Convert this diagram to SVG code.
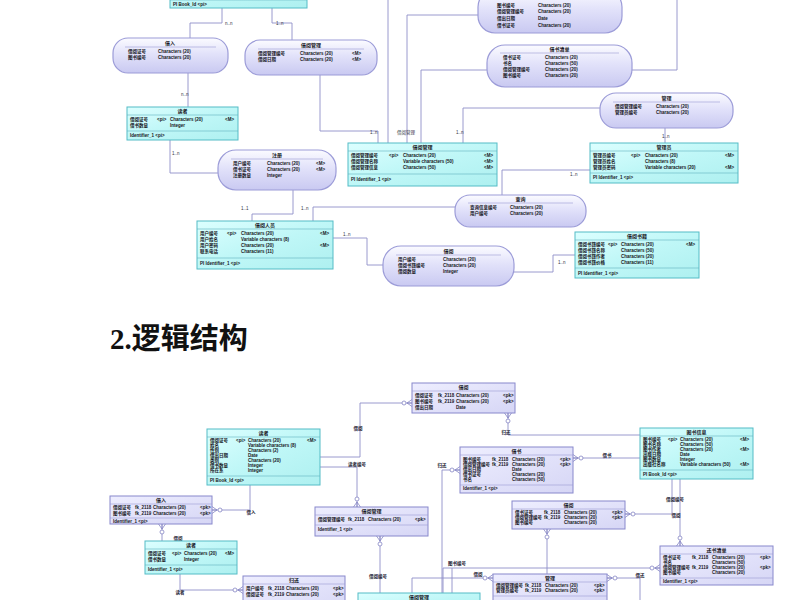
<svg xmlns="http://www.w3.org/2000/svg" width="800" height="600" viewBox="0 0 800 600">
<defs>
<linearGradient id="gc" x1="0" y1="0" x2="1" y2="1"><stop offset="0" stop-color="#dcffff"/><stop offset="0.5" stop-color="#bff7f7"/><stop offset="1" stop-color="#aef0f0"/></linearGradient>
<linearGradient id="gl" x1="0" y1="0" x2="0" y2="1"><stop offset="0" stop-color="#fbfbff"/><stop offset="0.45" stop-color="#e2e2fa"/><stop offset="1" stop-color="#c9c9f1"/></linearGradient>
<linearGradient id="gt" x1="0" y1="0" x2="1" y2="1"><stop offset="0" stop-color="#eeeeff"/><stop offset="1" stop-color="#d6d6f5"/></linearGradient>
<marker id="cf" markerUnits="userSpaceOnUse" markerWidth="14" markerHeight="10" refX="12" refY="5" orient="auto">
<path d="M12,1.5 L7,5 L12,8.5 M7,5 L12,5" fill="none" stroke="#8585c4" stroke-width="0.8"/>
<circle cx="4" cy="5" r="2" fill="#ffffff" stroke="#8585c4" stroke-width="0.8"/>
</marker>
<style>
.ent{fill:url(#gc);stroke:#55bcc6;stroke-width:1}
.rel{fill:url(#gl);stroke:#9c9cd8;stroke-width:1.2}
.tb{fill:url(#gt);stroke:#8888cc;stroke-width:1}
.sep{stroke:#62b4c0;stroke-width:0.6}
.sepl{stroke:#9a9ad4;stroke-width:0.6}
.ln{fill:none;stroke:#8e8ec8;stroke-width:0.9}
.lc{fill:none;stroke:#8e8ec8;stroke-width:0.9;marker-end:url(#cf)}
.t{font-family:"Liberation Sans","Noto Sans CJK SC",sans-serif;font-size:4.5px;font-weight:bold;fill:#151522}
.h{font-family:"Liberation Sans","Noto Sans CJK SC",sans-serif;font-size:5px;font-weight:bold;text-anchor:middle;fill:#151522}
.lb{font-family:"Liberation Sans","Noto Sans CJK SC",sans-serif;font-size:4.5px;fill:#333344}
.lbb{font-family:"Liberation Sans","Noto Sans CJK SC",sans-serif;font-size:4.5px;font-weight:bold;fill:#222233;text-anchor:middle}
.title{font-family:"Liberation Serif","Noto Sans CJK SC",serif;font-size:29px;font-weight:bold;fill:#111111}
</style>
</defs>
<rect x="0" y="0" width="800" height="600" fill="#ffffff"/>

<!-- ============ connectors ============ -->
<g id="connectors">
<!-- top diagram -->
<polyline class="ln" points="222,8 222,23 190,23 190,38"/>
<polyline class="ln" points="272,8 272,23 292,23 292,40"/>
<polyline class="ln" points="188,73 188,107"/>
<polyline class="ln" points="320,75 320,131 378,131 378,143"/>
<polyline class="ln" points="388,0 388,143"/>
<polyline class="ln" points="478,15 407,15 407,143"/>
<polyline class="ln" points="487,70 421,70 421,143"/>
<polyline class="ln" points="600,108 463,108 463,143"/>
<polyline class="ln" points="677,0 677,70 632,70"/>
<polyline class="ln" points="665,128 665,143"/>
<polyline class="ln" points="590,170 502,170 502,195"/>
<polyline class="ln" points="455,207 313,207 313,221"/>
<polyline class="ln" points="293,190 293,214 252,214 252,221"/>
<polyline class="ln" points="170,140 170,173 218,173"/>
<polyline class="ln" points="333,238 367,238 367,265 383,265"/>
<polyline class="ln" points="514,272 553,272 553,255 575,255"/>
<text class="lb" x="225" y="25">n..n</text>
<text class="lb" x="276" y="25">1..n</text>
<text class="lb" x="181" y="96">n..n</text>
<text class="lb" x="370" y="134">1..n</text>
<text class="lb" x="397" y="134">借阅管理</text>
<text class="lb" x="456" y="134">1..n</text>
<text class="lb" x="662" y="138">1..n</text>
<text class="lb" x="570" y="176">1..n</text>
<text class="lb" x="301" y="210">1..n</text>
<text class="lb" x="241" y="210">1..1</text>
<text class="lb" x="172" y="155">1..n</text>
<text class="lb" x="343" y="236">1..n</text>
<text class="lb" x="558" y="264">1..n</text>
<!-- bottom diagram -->
<polyline class="lc" points="320,457 360,457 360,403 412,403"/>
<polyline class="lc" points="320,467 357,467 357,507"/>
<polyline class="lc" points="250,485 250,510 212,510"/>
<polyline class="lc" points="162,541 162,524"/>
<polyline class="lc" points="180,574 180,590 243,590"/>
<polyline class="lc" points="380,593 380,536"/>
<polyline class="lc" points="640,435 508,435 508,413"/>
<polyline class="lc" points="640,458 573,458"/>
<polyline class="lc" points="442,593 442,470 460,470"/>
<polyline class="lc" points="672,479 672,514 625,514"/>
<polyline class="lc" points="680,479 680,546"/>
<polyline class="lc" points="547,574 547,529"/>
<polyline class="lc" points="443,593 443,568 660,568"/>
<polyline class="ln" points="452,593 452,568"/>
<polyline class="lc" points="412,593 412,578 493,578"/>
<polyline class="lc" points="640,600 640,578 607,578"/>
<text class="lbb" x="358" y="430">借阅</text>
<text class="lbb" x="357" y="466">读者编号</text>
<text class="lbb" x="251" y="514">借入</text>
<text class="lbb" x="178" y="540">借阅</text>
<text class="lbb" x="180" y="594">读者</text>
<text class="lbb" x="378" y="578">借阅编号</text>
<text class="lbb" x="506" y="434">归还</text>
<text class="lbb" x="607" y="457">借书</text>
<text class="lbb" x="442" y="467">归还</text>
<text class="lbb" x="675" y="501">借阅编号</text>
<text class="lbb" x="676" y="517">借阅</text>
<text class="lbb" x="457" y="565">图书编号</text>
<text class="lbb" x="478" y="576">借阅</text>
<text class="lbb" x="640" y="577">借还</text>
</g>

<!-- ============ top diagram nodes ============ -->
<g id="n1">
<rect class="ent" x="170" y="-40" width="137" height="48"/>
<line class="sep" x1="170" y1="0" x2="307" y2="0"/>
<text class="t" x="173" y="6">PI  Book_Id  &lt;pi&gt;</text>
</g>
<g id="n2">
<rect class="rel" x="113" y="38" width="115" height="35" rx="15"/>
<text class="h" x="170" y="45">借入</text>
<line class="sepl" x1="125" y1="47" x2="216" y2="47"/>
<text class="t" x="128" y="53">借阅证号</text><text class="t" x="158" y="53">Characters (20)</text>
<text class="t" x="128" y="59">图书编号</text><text class="t" x="158" y="59">Characters (20)</text>
</g>
<g id="n3">
<rect class="rel" x="245" y="40" width="132" height="35" rx="15"/>
<text class="h" x="311" y="47">借阅管理</text>
<line class="sepl" x1="258" y1="49" x2="364" y2="49"/>
<text class="t" x="258" y="55">借阅管理编号</text><text class="t" x="300" y="55">Characters (20)</text><text class="t" x="352" y="55">&lt;M&gt;</text>
<text class="t" x="258" y="61">借阅日期</text><text class="t" x="300" y="61">Characters (20)</text><text class="t" x="352" y="61">&lt;M&gt;</text>
</g>
<g id="n4">
<rect class="ent" x="127" y="107" width="111" height="33"/>
<text class="h" x="182.5" y="113">读者</text>
<line class="sep" x1="127" y1="115" x2="238" y2="115"/>
<text class="t" x="130" y="121">借阅证号</text><text class="t" x="157" y="121">&lt;pi&gt;</text><text class="t" x="170" y="121">Characters (20)</text><text class="t" x="225" y="121">&lt;M&gt;</text>
<text class="t" x="130" y="127">借书数量</text><text class="t" x="170" y="127">Integer</text>
<line class="sep" x1="127" y1="131" x2="238" y2="131"/>
<text class="t" x="130" y="137">Identifier_1  &lt;pi&gt;</text>
</g>
<g id="n5">
<rect class="rel" x="478" y="-10" width="144" height="43" rx="17"/>
<text class="t" x="497" y="7">图书编号</text><text class="t" x="538" y="7">Characters (20)</text>
<text class="t" x="497" y="13">借阅管理编号</text><text class="t" x="538" y="13">Characters (20)</text>
<text class="t" x="497" y="20">借出日期</text><text class="t" x="538" y="20">Date</text>
<text class="t" x="497" y="27">借书证号</text><text class="t" x="538" y="27">Characters (20)</text>
</g>
<g id="n6">
<rect class="rel" x="487" y="45" width="145" height="42" rx="18"/>
<text class="h" x="559.5" y="51">借书清单</text>
<line class="sepl" x1="500" y1="53" x2="619" y2="53"/>
<text class="t" x="503" y="59">借书证号</text><text class="t" x="545" y="59">Characters (20)</text>
<text class="t" x="503" y="65">书名</text><text class="t" x="545" y="65">Characters (50)</text>
<text class="t" x="503" y="71">借阅管理编号</text><text class="t" x="545" y="71">Characters (20)</text>
<text class="t" x="503" y="77">图书编号</text><text class="t" x="545" y="77">Characters (20)</text>
</g>
<g id="n7">
<rect class="rel" x="600" y="93" width="133" height="35" rx="16"/>
<text class="h" x="666.5" y="100">管理</text>
<line class="sepl" x1="613" y1="102" x2="720" y2="102"/>
<text class="t" x="615" y="108">借阅管理编号</text><text class="t" x="656" y="108">Characters (20)</text>
<text class="t" x="615" y="114">管理员编号</text><text class="t" x="656" y="114">Characters (20)</text>
</g>
<g id="n8">
<rect class="ent" x="590" y="143" width="148" height="40"/>
<text class="h" x="664" y="149">管理员</text>
<line class="sep" x1="590" y1="151" x2="738" y2="151"/>
<text class="t" x="593" y="157">管理员编号</text><text class="t" x="631" y="157">&lt;pi&gt;</text><text class="t" x="645" y="157">Characters (20)</text><text class="t" x="725" y="157">&lt;M&gt;</text>
<text class="t" x="593" y="163">管理员姓名</text><text class="t" x="645" y="163">Characters (8)</text>
<text class="t" x="593" y="169">管理员密码</text><text class="t" x="645" y="169">Variable characters (20)</text><text class="t" x="725" y="169">&lt;M&gt;</text>
<line class="sep" x1="590" y1="173" x2="738" y2="173"/>
<text class="t" x="593" y="179">PI  Identifier_1  &lt;pi&gt;</text>
</g>
<g id="n9">
<rect class="ent" x="348" y="143" width="149" height="43"/>
<text class="h" x="422.5" y="149">借阅管理</text>
<line class="sep" x1="348" y1="151" x2="497" y2="151"/>
<text class="t" x="351" y="157">借阅管理编号</text><text class="t" x="389" y="157">&lt;pi&gt;</text><text class="t" x="403" y="157">Characters (20)</text><text class="t" x="484" y="157">&lt;M&gt;</text>
<text class="t" x="351" y="163">借阅管理名称</text><text class="t" x="403" y="163">Variable characters (50)</text><text class="t" x="484" y="163">&lt;M&gt;</text>
<text class="t" x="351" y="169">借阅管理信息</text><text class="t" x="403" y="169">Characters (50)</text><text class="t" x="484" y="169">&lt;M&gt;</text>
<line class="sep" x1="348" y1="174" x2="497" y2="174"/>
<text class="t" x="351" y="181">PI  Identifier_1  &lt;pi&gt;</text>
</g>
<g id="n10">
<rect class="rel" x="455" y="195" width="131" height="32" rx="15"/>
<text class="h" x="520.5" y="201">查询</text>
<line class="sepl" x1="468" y1="203" x2="573" y2="203"/>
<text class="t" x="470" y="209">查询信息编号</text><text class="t" x="510" y="209">Characters (20)</text>
<text class="t" x="470" y="215">用户编号</text><text class="t" x="510" y="215">Characters (20)</text>
</g>
<g id="n11">
<rect class="rel" x="218" y="150" width="118" height="40" rx="18"/>
<text class="h" x="277" y="157">注册</text>
<line class="sepl" x1="231" y1="159" x2="323" y2="159"/>
<text class="t" x="233" y="165">用户编号</text><text class="t" x="267" y="165">Characters (20)</text><text class="t" x="316" y="165">&lt;M&gt;</text>
<text class="t" x="233" y="171">借书证号</text><text class="t" x="267" y="171">Characters (20)</text><text class="t" x="316" y="171">&lt;M&gt;</text>
<text class="t" x="233" y="177">注册数量</text><text class="t" x="267" y="177">Integer</text>
</g>
<g id="n12">
<rect class="ent" x="197" y="221" width="136" height="48"/>
<text class="h" x="265" y="227">借阅人员</text>
<line class="sep" x1="197" y1="229" x2="333" y2="229"/>
<text class="t" x="200" y="235">用户编号</text><text class="t" x="227" y="235">&lt;pi&gt;</text><text class="t" x="241" y="235">Characters (20)</text><text class="t" x="320" y="235">&lt;M&gt;</text>
<text class="t" x="200" y="241">用户姓名</text><text class="t" x="241" y="241">Variable characters (8)</text>
<text class="t" x="200" y="247">用户密码</text><text class="t" x="241" y="247">Characters (20)</text><text class="t" x="320" y="247">&lt;M&gt;</text>
<text class="t" x="200" y="253">联系电话</text><text class="t" x="241" y="253">Characters (11)</text>
<line class="sep" x1="197" y1="258" x2="333" y2="258"/>
<text class="t" x="200" y="265">PI  Identifier_1  &lt;pi&gt;</text>
</g>
<g id="n13">
<rect class="rel" x="383" y="246" width="131" height="40" rx="18"/>
<text class="h" x="448.5" y="253">借阅</text>
<line class="sepl" x1="396" y1="255" x2="501" y2="255"/>
<text class="t" x="398" y="261">用户编号</text><text class="t" x="443" y="261">Characters (20)</text>
<text class="t" x="398" y="267">借阅书籍编号</text><text class="t" x="443" y="267">Characters (20)</text>
<text class="t" x="398" y="273">借阅数量</text><text class="t" x="443" y="273">Integer</text>
</g>
<g id="n14">
<rect class="ent" x="575" y="232" width="124" height="46"/>
<text class="h" x="637" y="238">借阅书籍</text>
<line class="sep" x1="575" y1="240" x2="699" y2="240"/>
<text class="t" x="578" y="246">借阅书籍编号</text><text class="t" x="608" y="246">&lt;pi&gt;</text><text class="t" x="621" y="246">Characters (20)</text><text class="t" x="686" y="246">&lt;M&gt;</text>
<text class="t" x="578" y="252">借阅书籍名称</text><text class="t" x="621" y="252">Characters (50)</text>
<text class="t" x="578" y="258">借阅书籍作者</text><text class="t" x="621" y="258">Characters (20)</text>
<text class="t" x="578" y="264">借阅书籍价格</text><text class="t" x="621" y="264">Characters (11)</text>
<line class="sep" x1="575" y1="268" x2="699" y2="268"/>
<text class="t" x="578" y="275">PI  Identifier_1  &lt;pi&gt;</text>
</g>

<!-- ============ heading ============ -->
<text class="title" x="110" y="349">2.逻辑结构</text>

<!-- ============ bottom diagram nodes ============ -->
<g id="tA">
<rect class="tb" x="412" y="383" width="103" height="30"/>
<text class="h" x="463.5" y="389">借阅</text>
<line class="sepl" x1="412" y1="391" x2="515" y2="391"/>
<text class="t" x="415" y="397">借阅证号</text><text class="t" x="438" y="397">fk_2118</text><text class="t" x="456" y="397">Characters (20)</text><text class="t" x="503" y="397">&lt;pk&gt;</text>
<text class="t" x="415" y="403">图书编号</text><text class="t" x="438" y="403">fk_2119</text><text class="t" x="456" y="403">Characters (20)</text><text class="t" x="503" y="403">&lt;pk&gt;</text>
<text class="t" x="415" y="409">借出日期</text><text class="t" x="456" y="409">Date</text>
</g>
<g id="tB">
<rect class="ent" x="207" y="429" width="113" height="56"/>
<text class="h" x="263.5" y="435">读者</text>
<line class="sep" x1="207" y1="437" x2="320" y2="437"/>
<text class="t" x="210" y="442">借阅证号</text><text class="t" x="236" y="442">&lt;pi&gt;</text><text class="t" x="248" y="442">Characters (20)</text><text class="t" x="307" y="442">&lt;M&gt;</text>
<text class="t" x="210" y="447">姓名</text><text class="t" x="248" y="447">Variable characters (8)</text>
<text class="t" x="210" y="452">性别</text><text class="t" x="248" y="452">Characters (2)</text>
<text class="t" x="210" y="457">借出日期</text><text class="t" x="248" y="457">Date</text>
<text class="t" x="210" y="462">类别</text><text class="t" x="248" y="462">Characters (20)</text>
<text class="t" x="210" y="467">借书数量</text><text class="t" x="248" y="467">Integer</text>
<text class="t" x="210" y="472">所在系</text><text class="t" x="248" y="472">Integer</text>
<line class="sep" x1="207" y1="476" x2="320" y2="476"/>
<text class="t" x="210" y="482">PI  Book_Id  &lt;pi&gt;</text>
</g>
<g id="tC">
<rect class="tb" x="110" y="496" width="102" height="28"/>
<text class="h" x="161" y="502">借入</text>
<line class="sepl" x1="110" y1="504" x2="212" y2="504"/>
<text class="t" x="113" y="509">借阅证号</text><text class="t" x="135" y="509">fk_2118</text><text class="t" x="153" y="509">Characters (20)</text><text class="t" x="200" y="509">&lt;pk&gt;</text>
<text class="t" x="113" y="515">图书编号</text><text class="t" x="135" y="515">fk_2119</text><text class="t" x="153" y="515">Characters (20)</text><text class="t" x="200" y="515">&lt;pk&gt;</text>
<line class="sepl" x1="110" y1="518" x2="212" y2="518"/>
<text class="t" x="113" y="523">Identifier_1  &lt;pi&gt;</text>
</g>
<g id="tD">
<rect class="ent" x="145" y="541" width="92" height="33"/>
<text class="h" x="191" y="547">读者</text>
<line class="sep" x1="145" y1="549" x2="237" y2="549"/>
<text class="t" x="148" y="555">借阅证号</text><text class="t" x="172" y="555">&lt;pi&gt;</text><text class="t" x="184" y="555">Characters (20)</text><text class="t" x="225" y="555">&lt;M&gt;</text>
<text class="t" x="148" y="561">借书数量</text><text class="t" x="184" y="561">Integer</text>
<line class="sep" x1="145" y1="565" x2="237" y2="565"/>
<text class="t" x="148" y="571">Identifier_1  &lt;pi&gt;</text>
</g>
<g id="tE">
<rect class="tb" x="243" y="576" width="102" height="40"/>
<text class="h" x="294" y="582">归还</text>
<line class="sepl" x1="243" y1="584" x2="345" y2="584"/>
<text class="t" x="246" y="590">用户编号</text><text class="t" x="268" y="590">fk_2118</text><text class="t" x="286" y="590">Characters (20)</text><text class="t" x="333" y="590">&lt;pk&gt;</text>
<text class="t" x="246" y="596">借阅证号</text><text class="t" x="268" y="596">fk_2119</text><text class="t" x="286" y="596">Characters (20)</text><text class="t" x="333" y="596">&lt;pk&gt;</text>
</g>
<g id="tF">
<rect class="tb" x="315" y="507" width="113" height="29"/>
<text class="h" x="371.5" y="513">借阅管理</text>
<line class="sepl" x1="315" y1="515" x2="428" y2="515"/>
<text class="t" x="318" y="521">借阅管理编号</text><text class="t" x="348" y="521">fk_2118</text><text class="t" x="368" y="521">Characters (20)</text><text class="t" x="415" y="521">&lt;pk&gt;</text>
<line class="sepl" x1="315" y1="525" x2="428" y2="525"/>
<text class="t" x="318" y="531">Identifier_1  &lt;pi&gt;</text>
</g>
<g id="tG">
<rect class="ent" x="358" y="593" width="122" height="20"/>
<text class="h" x="419" y="599">借阅管理</text>
</g>
<g id="tI">
<rect class="ent" x="640" y="428" width="113" height="51"/>
<text class="h" x="696.5" y="434">图书信息</text>
<line class="sep" x1="640" y1="436" x2="753" y2="436"/>
<text class="t" x="643" y="441">图书编号</text><text class="t" x="668" y="441">&lt;pi&gt;</text><text class="t" x="680" y="441">Characters (20)</text><text class="t" x="740" y="441">&lt;M&gt;</text>
<text class="t" x="643" y="446">图书名称</text><text class="t" x="680" y="446">Characters (50)</text>
<text class="t" x="643" y="451">图书作者</text><text class="t" x="680" y="451">Characters (20)</text><text class="t" x="740" y="451">&lt;M&gt;</text>
<text class="t" x="643" y="456">出版日期</text><text class="t" x="680" y="456">Date</text>
<text class="t" x="643" y="461">图书数量</text><text class="t" x="680" y="461">Integer</text>
<text class="t" x="643" y="466">出版社名称</text><text class="t" x="680" y="466">Variable characters (50)</text><text class="t" x="740" y="466">&lt;M&gt;</text>
<line class="sep" x1="640" y1="470" x2="753" y2="470"/>
<text class="t" x="643" y="476">PI  Book_Id  &lt;pi&gt;</text>
</g>
<g id="tJ">
<rect class="tb" x="460" y="447" width="113" height="46"/>
<text class="h" x="516.5" y="453">借书</text>
<line class="sepl" x1="460" y1="455" x2="573" y2="455"/>
<text class="t" x="463" y="461">图书编号</text><text class="t" x="492" y="461">fk_2118</text><text class="t" x="512" y="461">Characters (20)</text><text class="t" x="560" y="461">&lt;pk&gt;</text>
<text class="t" x="463" y="466">借阅管理编号</text><text class="t" x="492" y="466">fk_2119</text><text class="t" x="512" y="466">Characters (20)</text><text class="t" x="560" y="466">&lt;pk&gt;</text>
<text class="t" x="463" y="471">借出日期</text><text class="t" x="512" y="471">Date</text>
<text class="t" x="463" y="476">借书证号</text><text class="t" x="512" y="476">Characters (20)</text>
<text class="t" x="463" y="481">书名</text><text class="t" x="512" y="481">Characters (50)</text>
<line class="sepl" x1="460" y1="485" x2="573" y2="485"/>
<text class="t" x="463" y="490">Identifier_1  &lt;pi&gt;</text>
</g>
<g id="tK">
<rect class="tb" x="512" y="501" width="113" height="28"/>
<text class="h" x="568.5" y="507">借阅</text>
<line class="sepl" x1="512" y1="509" x2="625" y2="509"/>
<text class="t" x="515" y="514">借书证号</text><text class="t" x="544" y="514">fk_2118</text><text class="t" x="564" y="514">Characters (20)</text><text class="t" x="612" y="514">&lt;pk&gt;</text>
<text class="t" x="515" y="519">借阅管理编号</text><text class="t" x="544" y="519">fk_2119</text><text class="t" x="564" y="519">Characters (20)</text><text class="t" x="612" y="519">&lt;pk&gt;</text>
<text class="t" x="515" y="524">图书编号</text><text class="t" x="564" y="524">Characters (20)</text>
</g>
<g id="tL">
<rect class="tb" x="660" y="546" width="113" height="39"/>
<text class="h" x="716.5" y="552">还书清单</text>
<line class="sepl" x1="660" y1="554" x2="773" y2="554"/>
<text class="t" x="663" y="559">借书证号</text><text class="t" x="692" y="559">fk_2118</text><text class="t" x="712" y="559">Characters (20)</text><text class="t" x="760" y="559">&lt;pk&gt;</text>
<text class="t" x="663" y="564">书名</text><text class="t" x="712" y="564">Characters (50)</text>
<text class="t" x="663" y="569">借阅管理编号</text><text class="t" x="692" y="569">fk_2119</text><text class="t" x="712" y="569">Characters (20)</text><text class="t" x="760" y="569">&lt;pk&gt;</text>
<text class="t" x="663" y="574">图书编号</text><text class="t" x="712" y="574">Characters (20)</text>
<line class="sepl" x1="660" y1="578" x2="773" y2="578"/>
<text class="t" x="663" y="583">Identifier_1  &lt;pi&gt;</text>
</g>
<g id="tM">
<rect class="tb" x="493" y="574" width="114" height="35"/>
<text class="h" x="550" y="580">管理</text>
<line class="sepl" x1="493" y1="582" x2="607" y2="582"/>
<text class="t" x="496" y="587">借阅管理编号</text><text class="t" x="525" y="587">fk_2118</text><text class="t" x="545" y="587">Characters (20)</text><text class="t" x="594" y="587">&lt;pk&gt;</text>
<text class="t" x="496" y="592">管理员编号</text><text class="t" x="525" y="592">fk_2119</text><text class="t" x="545" y="592">Characters (20)</text><text class="t" x="594" y="592">&lt;pk&gt;</text>
<line class="sepl" x1="493" y1="596" x2="607" y2="596"/>
</g>
</svg>
